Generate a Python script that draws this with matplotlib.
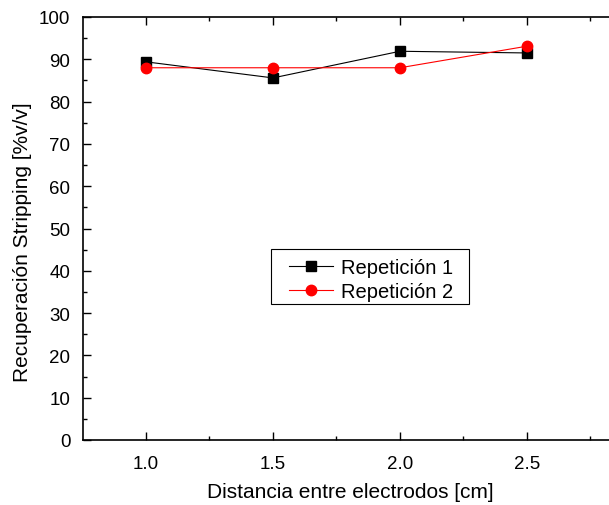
import matplotlib
matplotlib.use('Agg')
import matplotlib.pyplot as plt
from matplotlib.patches import Rectangle
from matplotlib.ticker import MultipleLocator

plt.rcParams['font.family'] = ['Liberation Sans', 'DejaVu Sans']

distancia = [1.0, 1.5, 2.0, 2.5]
rep1 = [89.4, 85.6, 91.9, 91.5]
rep2 = [88.0, 88.0, 88.0, 93.1]

fig = plt.figure(figsize=(6.09, 5.06), dpi=100)
# axes runs past the right edge of the figure, like the original crop
ax = fig.add_axes([83/609, 65/506, 560/609, 423/506])

ax.plot(distancia, rep1, color='black', lw=0.8, marker='s', ms=7, label='Repetición 1')
ax.plot(distancia, rep2, color='red', lw=0.8, marker='o', ms=7.5, label='Repetición 2')

ax.set_xlim(0.752, 0.752 + 560 / 254)
ax.set_ylim(0, 100)
ax.xaxis.set_major_locator(MultipleLocator(0.5))
ax.xaxis.set_minor_locator(MultipleLocator(0.25))
ax.yaxis.set_major_locator(MultipleLocator(10))
ax.yaxis.set_minor_locator(MultipleLocator(5))
ax.tick_params(which='both', direction='in', top=True, labelsize=13.5, width=1)
ax.tick_params(which='major', length=6)
ax.tick_params(which='minor', length=3)
ax.tick_params(axis='x', pad=11)
ax.tick_params(axis='y', pad=9)
ax.set_xticks([1.0, 1.5, 2.0, 2.5])
ax.set_xticklabels(['1.0', '1.5', '2.0', '2.5'])
ax.spines['right'].set_visible(False)
for s in ['left', 'bottom', 'top']:
    ax.spines[s].set_linewidth(1.2)

ax.set_xlabel('Distancia entre electrodos [cm]', fontsize=15, va='center')
ax.set_ylabel('Recuperación Stripping [%v/v]', fontsize=15, va='center')
ax.xaxis.set_label_coords((350 - 83) / 560, (441 - 493) / 423)
ax.yaxis.set_label_coords((23 - 83) / 560, (441 - 242) / 423)

# legend: entries without frame, box drawn separately (x 271..469, y 250..305 px)
def ax_x(px):
    return (px - 83) / 560

def ax_y(py):
    return (441 - py) / 423

leg = ax.legend(loc='upper left', bbox_to_anchor=(ax_x(283), ax_y(253)),
                fontsize=14.5, frameon=False,
                handlelength=2.2, borderpad=0.3, labelspacing=0.25, handletextpad=0.4,
                borderaxespad=0)
ax.add_patch(Rectangle((ax_x(271), ax_y(305)), ax_x(469) - ax_x(271), ax_y(250) - ax_y(305),
                       transform=ax.transAxes, fill=True, facecolor='white',
                       edgecolor='black', lw=0.8, zorder=4))
leg.set_zorder(5)

fig.savefig('out.png', dpi=100)
